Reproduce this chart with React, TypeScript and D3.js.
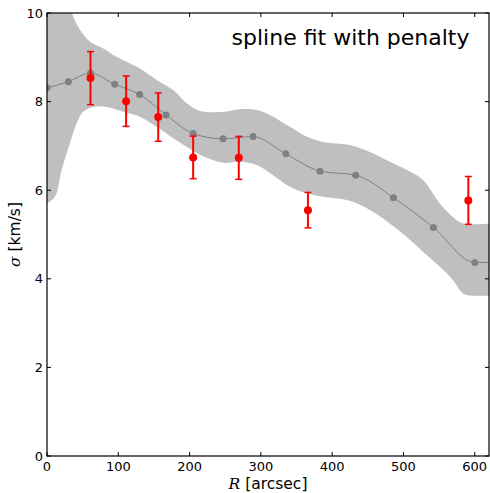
import React from "react";
import * as d3 from "d3";

// fitted spline knots
const fitR = [0, 30, 61, 95, 130, 167, 205, 247, 289, 335, 383, 433, 486, 542, 600];
const fitSigma = [8.31, 8.45, 8.64, 8.39, 8.16, 7.7, 7.28, 7.16, 7.21, 6.82, 6.43, 6.34, 5.83, 5.16, 4.37];

// measured data with errors
const dataR = [61, 111, 156, 205, 269, 366, 591];
const dataSigma = [8.53, 8.01, 7.65, 6.74, 6.73, 5.55, 5.77];
const dataErr = [0.6, 0.57, 0.545, 0.48, 0.485, 0.4, 0.54];

// confidence band
const bandUpperR = [0, 20, 34.6, 46.3, 60.3, 78.9, 97.7, 116.3, 130.4, 153.8, 177.1, 195.9, 214.5, 247.2, 270.6, 294, 312.6, 340.7, 364.1, 387.4, 424.8, 457.5, 480.9, 504.3, 527.5, 551, 569.6, 583.6, 620];
const bandUpper = [11.2, 10.6, 10.0, 9.62, 9.35, 9.2, 9.01, 8.86, 8.75, 8.49, 8.26, 7.96, 7.79, 7.77, 7.83, 7.81, 7.7, 7.43, 7.21, 7.09, 7.02, 6.83, 6.64, 6.46, 6.23, 5.7, 5.39, 5.25, 5.25];
const bandLowerR = [0, 11.2, 20.6, 32.2, 41.6, 50.9, 64.9, 83.7, 107, 130.4, 153.8, 177.1, 195.9, 214.5, 247.2, 270.6, 294, 317.3, 340.7, 364.1, 387.4, 424.8, 457.5, 480.9, 504.3, 527.5, 551, 569.6, 583.6, 597.6, 620];
const bandLower = [5.7, 5.85, 6.46, 7.06, 7.51, 7.77, 7.88, 7.88, 7.77, 7.66, 7.43, 7.17, 6.98, 6.8, 6.62, 6.64, 6.57, 6.34, 6.08, 5.93, 5.85, 5.76, 5.51, 5.25, 4.95, 4.61, 4.27, 3.97, 3.67, 3.62, 3.62];

const xTicks = [0, 100, 200, 300, 400, 500, 600];
const yTicks = [0, 2, 4, 6, 8, 10];
const title = "spline fit with penalty";

const W = 490, H = 493;
const L = 47, R = 489, T = 13, B = 456;

export default function App() {
  const x = d3.scaleLinear().domain([0, 620]).range([L, R]);
  const y = d3.scaleLinear().domain([0, 10]).range([B, T]);

  const upperPts: [number, number][] = bandUpperR.map((r, i) => [x(r), y(bandUpper[i])]);
  const lowerPts: [number, number][] = bandLowerR.map((r, i) => [x(r), y(bandLower[i])]).reverse() as [number, number][];
  const bandGen = d3.line().curve(d3.curveCatmullRom.alpha(0.5));
  const upPath = bandGen(upperPts) || "";
  const lowPath = (bandGen(lowerPts) || "").replace(/^M/, "L");
  const bandPath = upPath + lowPath + "Z";

  const fitPts: [number, number][] = fitR.map((r, i) => [x(r), y(fitSigma[i])]);
  fitPts.push([x(620), y(fitSigma[fitSigma.length - 1])]);
  const fitPath = d3.line().curve(d3.curveMonotoneX)(fitPts) || "";

  const font = "'DejaVu Sans', sans-serif";
  const tickLen = 4;

  return (
    <svg width={W} height={H} style={{ position: "absolute", left: 0, top: 0, background: "#fff" }}>
      <defs>
        <clipPath id="plotclip">
          <rect x={L} y={T} width={R - L} height={B - T} />
        </clipPath>
      </defs>
      <rect x={0} y={0} width={W} height={H} fill="#fff" />
      <g clipPath="url(#plotclip)">
        <path d={bandPath} fill="#bfbfbf" stroke="none" />
        <path d={fitPath} fill="none" stroke="#808080" strokeWidth={1} />
        {fitR.map((r, i) => (
          <circle key={"f" + i} cx={x(r)} cy={y(fitSigma[i])} r={3.5} fill="#808080" />
        ))}
        {dataR.map((r, i) => {
          const cx = x(r);
          const y1 = y(dataSigma[i] + dataErr[i]);
          const y0 = y(dataSigma[i] - dataErr[i]);
          return (
            <g key={"d" + i}>
              <line x1={cx} x2={cx} y1={y1} y2={y0} stroke="#ff0000" strokeWidth={2} />
              <line x1={cx - 3.5} x2={cx + 3.5} y1={y1} y2={y1} stroke="#ff0000" strokeWidth={1.5} />
              <line x1={cx - 3.5} x2={cx + 3.5} y1={y0} y2={y0} stroke="#ff0000" strokeWidth={1.5} />
              <circle cx={cx} cy={y(dataSigma[i])} r={4} fill="#ff0000" />
            </g>
          );
        })}
      </g>
      {/* frame */}
      <rect x={L} y={T} width={R - L} height={B - T} fill="none" stroke="#000" strokeWidth={1.2} />
      {/* ticks */}
      {xTicks.map((t) => (
        <g key={"xt" + t}>
          <line x1={x(t)} x2={x(t)} y1={B} y2={B - tickLen} stroke="#000" strokeWidth={1} />
          <line x1={x(t)} x2={x(t)} y1={T} y2={T + tickLen} stroke="#000" strokeWidth={1} />
          <text x={x(t)} y={471} textAnchor="middle" fontFamily={font} fontSize={13} fill="#000">
            {t}
          </text>
        </g>
      ))}
      {yTicks.map((t) => (
        <g key={"yt" + t}>
          <line x1={L} x2={L + tickLen} y1={y(t)} y2={y(t)} stroke="#000" strokeWidth={1} />
          <line x1={R} x2={R - tickLen} y1={y(t)} y2={y(t)} stroke="#000" strokeWidth={1} />
          <text x={L - 4} y={y(t)} dy="0.36em" textAnchor="end" fontFamily={font} fontSize={13} fill="#000">
            {t}
          </text>
        </g>
      ))}
      {/* title */}
      <text x={469.5} y={45} textAnchor="end" fontFamily={font} fontSize={22} fill="#000">
        {title}
      </text>
      {/* axis labels */}
      <text x={(L + R) / 2} y={489} textAnchor="middle" fontFamily={font} fontSize={15.5} fill="#000">
        <tspan fontFamily="'DejaVu Serif', serif" fontStyle="italic">R</tspan>
        <tspan> [arcsec]</tspan>
      </text>
      <text
        transform={`translate(20, ${(T + B) / 2}) rotate(-90)`}
        textAnchor="middle"
        fontFamily={font}
        fontSize={15.5}
        fill="#000"
      >
        <tspan fontFamily="'DejaVu Serif', serif" fontStyle="italic">σ</tspan>
        <tspan> [km/s]</tspan>
      </text>
    </svg>
  );
}
